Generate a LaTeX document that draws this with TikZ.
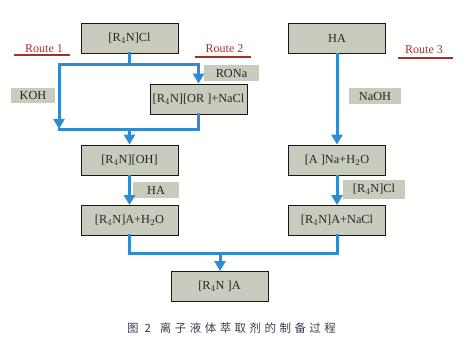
\documentclass[tikz,border=0pt]{standalone}
\usepackage{fontspec}
\setmainfont{Liberation Serif}
\newfontfamily\cjk[LetterSpace=30]{Noto Sans CJK SC}
\usetikzlibrary{arrows.meta}
\definecolor{boxfill}{HTML}{C8CCBC}
\definecolor{flowblue}{HTML}{2F8BD2}
\definecolor{routered}{HTML}{A3302C}
\definecolor{captxt}{HTML}{3C3C50}
\tikzset{
  x=1pt, y=-1pt,
  stepbox/.style={draw=black!90, line width=0.9pt, fill=boxfill, minimum width=97pt, minimum height=30pt, inner sep=0pt, font=\fontsize{12.3}{14}\selectfont, text=black!85},
  reag/.style={fill=boxfill, inner sep=0pt, font=\fontsize{12.3}{14}\selectfont, text=black!85},
  routelbl/.style={text=routered, font=\fontsize{12}{14}\selectfont, anchor=base, inner sep=0pt},
  routeline/.style={draw=routered, line width=2pt},
  flow/.style={draw=flowblue, line width=3pt, line cap=rect},
  flowarrow/.style={draw=flowblue, line width=3pt, -{Triangle[width=11pt,length=10pt]}}
}
\begin{document}
\begin{tikzpicture}
\useasboundingbox (0,0) rectangle (471,350);
% boxes
\node[stepbox] (cl) at (129.5,38) {[R$_4$N]Cl};
\node[stepbox] (ha) at (337,38) {HA};
\node[stepbox] (or) at (198.5,99) {[R$_4$N][OR ]+NaCl};
\node[stepbox] (oh) at (129.5,160) {[R$_4$N][OH]};
\node[stepbox] (ah) at (129.5,220.5) {[R$_4$N]A+H$_2$O};
\node[stepbox] (ana) at (337,160) {[A ]Na+H$_2$O};
\node[stepbox] (acl) at (337,220.5) {[R$_4$N]A+NaCl};
\node[stepbox] (fin) at (219.5,286.5) {[R$_4$N ]A};
% reagent labels
\node[reag, minimum width=44pt, minimum height=15pt] (koh) at (33,95.5) {KOH};
\node[reag, minimum width=55pt, minimum height=16pt] (rona) at (231.5,73) {RONa};
\node[reag, minimum width=52pt, minimum height=16pt] (naoh) at (375,96) {NaOH};
\node[reag, minimum width=46pt, minimum height=16pt] (halbl) at (156,190) {HA};
\node[reag, minimum width=62pt, minimum height=19pt] (cllbl) at (374,189.5) {[R$_4$N]Cl};
% routes
\node[routelbl] (r1) at (44,52.5) {Route 1};
\node[routelbl] (r2) at (224.5,53) {Route 2};
\node[routelbl] (r3) at (424,53.5) {Route 3};
\coordinate (r1a) at (14,55); \coordinate (r1b) at (70,55);
\coordinate (r2a) at (195,57); \coordinate (r2b) at (251,57);
\coordinate (r3a) at (398,58); \coordinate (r3b) at (453,58);
\draw[routeline] (r1a) -- (r1b);
\draw[routeline] (r2a) -- (r2b);
\draw[routeline] (r3a) -- (r3b);
% flow coordinates
\coordinate (j1) at (129.5,65);
\coordinate (jl) at (59,65);
\coordinate (jr) at (198.5,65);
\coordinate (bl) at (59,129);
\coordinate (bll) at (59,130);
\coordinate (br) at (198.5,130);
\coordinate (bm) at (129.5,130);
\coordinate (dl) at (129.5,253);
\coordinate (dr) at (337,253);
\coordinate (dm) at (220,253);
\coordinate (finn) at (220,271);
% flows
\draw[flow] (cl.south) -- (j1);
\draw[flow] (jl) -- (jr);
\draw[flowarrow] (jl) -- (bl);
\draw[flowarrow] (jr) -- (or.north);
\draw[flow] (or.south) -- (br) -- (bll);
\draw[flowarrow] (bm) -- (oh.north);
\draw[flowarrow] (oh.south) -- (ah.north);
\draw[flowarrow] (ha.south) -- (ana.north);
\draw[flowarrow] (ana.south) -- (acl.north);
\draw[flow] (ah.south) -- (dl) -- (dr) -- (acl.south);
\draw[flowarrow] (dm) -- (finn);
% caption
\node[text=captxt, font=\fontsize{11.5}{13}\selectfont\cjk, inner sep=0pt] (cap) at (231.5,328) {图 2\hspace{9pt}离子液体萃取剂的制备过程};
\end{tikzpicture}
\end{document}
